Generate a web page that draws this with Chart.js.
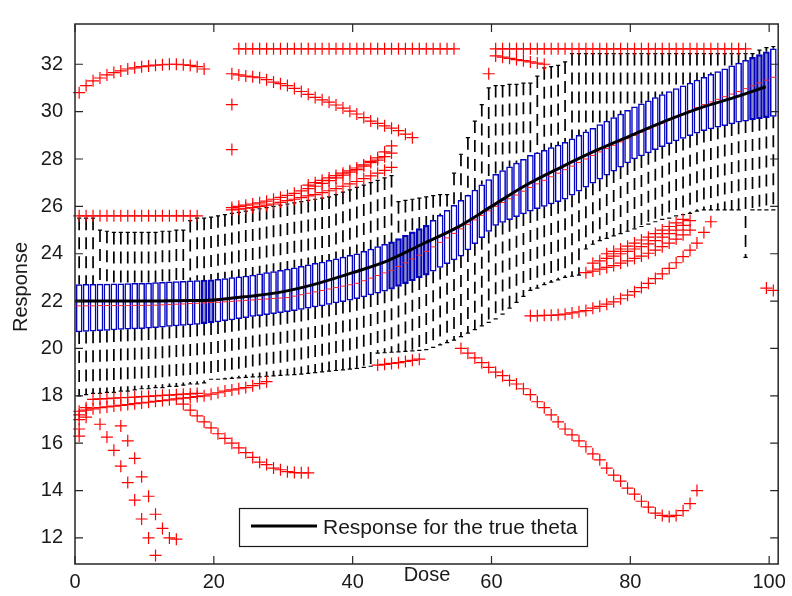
<!DOCTYPE html>
<html>
<head>
<meta charset="utf-8">
<style>
  html, body { margin: 0; padding: 0; background: #fff; }
</style>
</head>
<body>
<canvas id="doseChart" width="792" height="596"></canvas>
<script src="https://cdn.jsdelivr.net/npm/chart.js@4.4.1/dist/chart.umd.min.js"></script>
<script>
// one box per dose 0..100; boxes sit slightly right of the integer dose
const OFFSET = 0.6
const dose = Array.from({ length: 101 }, (_, i) => i)

// upper quartile
const q3 = [
  22.70, 22.71, 22.71, 22.72, 22.72, 22.73, 22.73, 22.74, 22.75, 22.75,
  22.76, 22.78, 22.79, 22.81, 22.82, 22.84, 22.86, 22.87, 22.89, 22.90,
  22.92, 22.95, 22.99, 23.02, 23.06, 23.10, 23.15, 23.20, 23.25, 23.30,
  23.35, 23.41, 23.47, 23.53, 23.59, 23.65, 23.72, 23.79, 23.86, 23.93,
  24.00, 24.10, 24.20, 24.30, 24.40, 24.50, 24.64, 24.78, 24.92, 25.06,
  25.20, 25.41, 25.62, 25.83, 26.04, 26.25, 26.47, 26.69, 26.91, 27.13,
  27.35, 27.51, 27.67, 27.83, 27.99, 28.15, 28.26, 28.37, 28.48, 28.59,
  28.70, 28.85, 29.00, 29.15, 29.30, 29.45, 29.60, 29.75, 29.90, 30.05,
  30.20, 30.33, 30.46, 30.59, 30.72, 30.85, 30.97, 31.09, 31.21, 31.33,
  31.45, 31.57, 31.69, 31.81, 31.93, 32.05, 32.17, 32.29, 32.41, 32.53,
  32.65
]

// lower quartile
const q1 = [
  20.70, 20.72, 20.73, 20.75, 20.76, 20.78, 20.80, 20.81, 20.83, 20.84,
  20.86, 20.88, 20.90, 20.93, 20.95, 20.97, 20.99, 21.02, 21.05, 21.08,
  21.12, 21.17, 21.21, 21.26, 21.30, 21.35, 21.39, 21.43, 21.47, 21.51,
  21.55, 21.60, 21.65, 21.70, 21.75, 21.80, 21.86, 21.92, 21.98, 22.04,
  22.10, 22.18, 22.26, 22.34, 22.42, 22.50, 22.62, 22.74, 22.86, 22.98,
  23.10, 23.26, 23.42, 23.58, 23.74, 23.90, 24.16, 24.42, 24.68, 24.94,
  25.20, 25.32, 25.44, 25.56, 25.68, 25.80, 25.90, 26.00, 26.10, 26.20,
  26.30, 26.47, 26.64, 26.81, 26.98, 27.15, 27.32, 27.49, 27.66, 27.83,
  28.00, 28.13, 28.26, 28.39, 28.52, 28.65, 28.76, 28.87, 28.98, 29.09,
  29.20, 29.27, 29.34, 29.41, 29.48, 29.55, 29.60, 29.65, 29.70, 29.75,
  29.80
]

// medians
const median = [
  21.80, 21.80, 21.80, 21.81, 21.81, 21.81, 21.81, 21.81, 21.82, 21.82,
  21.82, 21.83, 21.84, 21.86, 21.87, 21.88, 21.90, 21.91, 21.92, 21.94,
  21.95, 21.97, 21.99, 22.01, 22.03, 22.05, 22.07, 22.09, 22.11, 22.13,
  22.15, 22.21, 22.27, 22.33, 22.39, 22.45, 22.51, 22.57, 22.63, 22.69,
  22.75, 22.86, 22.97, 23.08, 23.19, 23.30, 23.46, 23.62, 23.78, 23.94,
  24.10, 24.29, 24.48, 24.67, 24.86, 25.05, 25.24, 25.43, 25.62, 25.81,
  26.00, 26.16, 26.32, 26.48, 26.64, 26.80, 26.95, 27.10, 27.25, 27.40,
  27.55, 27.70, 27.85, 28.00, 28.15, 28.30, 28.44, 28.58, 28.72, 28.86,
  29.00, 29.13, 29.26, 29.39, 29.52, 29.65, 29.78, 29.91, 30.04, 30.17,
  30.30, 30.41, 30.52, 30.63, 30.74, 30.85, 30.97, 31.09, 31.21, 31.33,
  31.45
]

// upper whisker ends
const whiskerHigh = [
  25.5, 25.5, 25.5, 25.0, 24.95, 24.9, 24.9, 24.9, 24.9, 24.9,
  24.9, 24.9, 24.95, 24.95, 25.0, 25.0, 25.4, 25.5, 25.5, 25.55,
  25.6, 25.65, 25.7, 25.75, 25.8, 25.85, 25.9, 25.95, 26.0, 26.05,
  26.1, 26.15, 26.2, 26.25, 26.3, 26.35, 26.4, 26.5, 26.6, 26.7,
  26.8, 26.9, 27.0, 27.1, 27.2, 27.3, 26.2, 26.25, 26.3, 26.35,
  26.4, 26.45, 26.5, 26.5, 27.4, 28.2, 28.9, 29.6, 30.3, 31.0,
  31.1, 31.1, 31.15, 31.15, 31.2, 31.2, 31.5, 31.85, 31.9, 31.95,
  32.1, 32.45, 32.45, 32.45, 32.45, 32.45, 32.45, 32.45, 32.45, 32.45,
  32.45, 32.45, 32.45, 32.45, 32.45, 32.45, 32.45, 32.45, 32.45, 32.45,
  32.45, 32.45, 32.45, 32.45, 32.45, 32.45, 32.45, 32.45, 32.6, 32.7,
  32.75
]

// lower whisker ends
const whiskerLow = [
  18.0, 18.05, 18.1, 18.1, 18.15, 18.15, 18.2, 18.2, 18.25, 18.3,
  18.3, 18.35, 18.35, 18.4, 18.4, 18.45, 18.5, 18.5, 18.55, 18.7,
  18.7, 18.72, 18.74, 18.76, 18.78, 18.8, 18.8, 18.82, 18.84, 18.86,
  18.88, 18.9, 18.92, 18.95, 18.98, 19.01, 19.04, 19.07, 19.1, 19.13,
  19.16, 19.2, 19.25, 19.8, 19.82, 19.84, 19.86, 19.88, 19.9, 19.92,
  19.95, 20.05, 20.15, 20.25, 20.35, 20.5, 20.65, 20.8, 20.95, 21.1,
  21.25, 21.45, 21.7, 21.95, 22.2, 22.45, 22.55, 22.7, 22.8, 22.9,
  23.0, 23.05, 23.1, 24.2, 24.4, 24.55, 24.65, 24.75, 24.85, 24.95,
  25.05, 25.15, 25.25, 25.35, 25.45, 25.5, 25.6, 25.65, 25.7, 25.8,
  25.85, 25.85, 25.85, 25.85, 25.85, 25.85, 23.85, 25.85, 25.85, 25.85,
  25.85
]

// response for the true theta
const truthDose = [0, 5, 10, 15, 20, 25, 30, 35, 40, 45, 50, 55, 60, 65, 70, 75, 80, 85, 90, 95, 99.5]
const truthResp = [22.0, 22.0, 22.0, 22.02, 22.05, 22.2, 22.4, 22.75, 23.2, 23.7, 24.4, 25.1, 26.0, 26.9, 27.65, 28.35, 28.98, 29.6, 30.15, 30.6, 31.05]

// outliers, one run of consecutive doses per array (first dose in the comment)
const outArcTop = [30.8, 31.1, 31.3, 31.42, 31.55, 31.65, 31.72, 31.8, 31.85, 31.9, 31.93, 31.96, 31.98, 32.0, 32.0, 31.98, 31.95, 31.9, 31.8] // from 0
const outRow256 = [25.6, 25.6, 25.6, 25.6, 25.6, 25.6, 25.6, 25.6, 25.6, 25.6, 25.6, 25.6, 25.6, 25.6, 25.6, 25.6, 25.6, 25.6] // from 0
const outRowTopA = [32.65, 32.65, 32.65, 32.65, 32.65, 32.65, 32.65, 32.65, 32.65, 32.65, 32.65, 32.65, 32.65, 32.65, 32.65, 32.65,
  32.65, 32.65, 32.65, 32.65, 32.65, 32.65, 32.65, 32.65, 32.65, 32.65, 32.65, 32.65, 32.65, 32.65, 32.65, 32.65] // from 23
const outRowTopB = [32.65, 32.65, 32.65, 32.65, 32.65, 32.65, 32.65, 32.65, 32.65, 32.65, 32.65, 32.65, 32.65, 32.65, 32.65, 32.65,
  32.65, 32.65, 32.65, 32.65, 32.65, 32.65, 32.65, 32.65, 32.65, 32.65, 32.65, 32.65, 32.65, 32.65, 32.65, 32.65,
  32.65, 32.65, 32.65, 32.65, 32.65] // from 60
const outArcMid = [31.6, 31.55, 31.5, 31.47, 31.43, 31.35, 31.25, 31.18, 31.1, 30.98, 30.85, 30.73, 30.6, 30.5, 30.4, 30.28,
  30.15, 30.02, 29.9, 29.75, 29.6, 29.5, 29.4, 29.3, 29.2, 29.05, 28.9] // from 22
const outBandF = [31.6, 32.35, 32.3, 32.25, 32.2, 32.15, 32.1, 32.05, 32.0] // from 59
const outG1 = [25.85, 25.88, 25.92, 25.95, 26.0, 26.05, 26.1, 26.17, 26.24, 26.3, 26.37, 26.44, 26.5, 26.58, 26.66, 26.75,
  26.85, 26.95, 27.05, 27.17, 27.29, 27.4, 27.52, 27.65] // from 22
const outG2 = [25.95, 26.0, 26.05, 26.1, 26.15, 26.22, 26.3, 26.38, 26.46, 26.55, 26.65, 26.75, 26.85, 26.97, 27.09, 27.2,
  27.32, 27.44, 27.55, 27.7, 27.85, 27.95, 28.1, 28.25] // from 22
const outG3 = [26.9, 27.0, 27.1, 27.2, 27.3, 27.4, 27.5, 27.62, 27.75, 27.9, 28.05, 28.3, 28.55] // from 33
const outH1 = [17.35, 17.4, 17.45, 17.5, 17.53, 17.57, 17.6, 17.63, 17.67, 17.7, 17.73, 17.77, 17.8, 17.83, 17.87, 17.9,
  17.93, 17.97, 18.0, 18.07, 18.13, 18.2, 18.25, 18.3, 18.35, 18.43, 18.52, 18.6] // from 0
const outH2 = [17.85, 17.87, 17.88, 17.9, 17.92, 17.93, 17.95, 17.97, 17.98, 18.0, 18.02, 18.03, 18.05, 18.07, 18.08, 18.1] // from 2
const outI = [17.65, 17.4, 17.15, 16.9, 16.65, 16.4, 16.2, 16.0, 15.8, 15.6, 15.4, 15.2, 15.1, 14.95, 14.88, 14.8, 14.76, 14.75, 14.75] // from 15
const outJ1 = [16.8, 16.26, 15.7, 15.03, 14.34, 13.6, 12.8, 12.0, 11.26] // from 3
const outJ2 = [16.73, 16.1, 15.36, 14.58, 13.76, 13.0, 12.4, 12.0, 11.95] // from 6
const outK = [19.3, 19.33, 19.37, 19.4, 19.45, 19.5, 19.55] // from 43
const outL = [20.0, 19.8, 19.6, 19.4, 19.2, 19.0, 18.85, 18.65, 18.5, 18.3, 18.05, 17.75, 17.5, 17.2, 16.9, 16.6, 16.35, 16.1,
  15.85, 15.55, 15.3, 14.95, 14.65, 14.4, 14.1, 13.85, 13.55, 13.3, 13.05, 12.95, 12.9, 12.95, 13.15, 13.45, 14.0] // from 55
const outM = [21.38, 21.38, 21.4, 21.4, 21.42, 21.45, 21.5, 21.55, 21.6, 21.7, 21.78, 21.87, 21.97, 22.1, 22.25, 22.4, 22.57,
  22.75, 22.95, 23.15, 23.38, 23.62, 23.88, 24.15, 24.45, 24.9, 25.35] // from 65
const outN1 = [23.2, 23.27, 23.35, 23.42, 23.5, 23.6, 23.7, 23.8, 23.9, 24.02, 24.15, 24.3, 24.45, 24.62, 24.8, 25.0] // from 73
const outN2 = [23.6, 23.7, 23.8, 23.9, 24.0, 24.1, 24.2, 24.3, 24.42, 24.55, 24.7, 24.85, 25.0, 25.2, 25.4] // from 74
const outN3 = [24.0, 24.1, 24.2, 24.32, 24.45, 24.58, 24.7, 24.85, 25.0, 25.15, 25.3, 25.45] // from 76
const singleDose = [22, 22, 0, 0, 0, 0, 1, 1, 99, 100]
const singleResp = [30.3, 28.4, 16.3, 16.6, 17.0, 17.2, 17.1, 17.5, 22.55, 22.45]

// axis ticks
const xTicks = [0, 20, 40, 60, 80, 100]
const yTicks = [12, 14, 16, 18, 20, 22, 24, 26, 28, 30, 32]

const FONT = "'Liberation Sans', Arial, sans-serif"
Chart.defaults.font.family = FONT

// helpers to turn the arrays into points for the library
const pos = (d) => d + OFFSET
const band = (start, values) => values.map((v, k) => ({ x: pos(start + k), y: v }))
const segments = (pairs) => pairs.flatMap(([a, b]) => [a, b, { x: a.x, y: null }])

const boxData = dose.map((d, i) => ({ x: pos(d), y: [q1[i], q3[i]] }))
const upperWhiskers = segments(dose.map((d, i) => [{ x: pos(d), y: whiskerHigh[i] }, { x: pos(d), y: q3[i] }]))
const lowerWhiskers = segments(dose.map((d, i) => [{ x: pos(d), y: q1[i] }, { x: pos(d), y: whiskerLow[i] }]))
const caps = segments(dose.flatMap((d, i) => [
  [{ x: pos(d) - 0.3, y: whiskerHigh[i] }, { x: pos(d) + 0.3, y: whiskerHigh[i] }],
  [{ x: pos(d) - 0.3, y: whiskerLow[i] }, { x: pos(d) + 0.3, y: whiskerLow[i] }],
]))
const medianLines = segments(dose.map((d, i) => [{ x: pos(d) - 0.4, y: median[i] }, { x: pos(d) + 0.4, y: median[i] }]))
const outliers = [
  ...band(0, outArcTop), ...band(0, outRow256), ...band(23, outRowTopA), ...band(60, outRowTopB),
  ...band(22, outArcMid), ...band(59, outBandF), ...band(22, outG1), ...band(22, outG2), ...band(33, outG3),
  ...band(0, outH1), ...band(2, outH2), ...band(15, outI), ...band(3, outJ1), ...band(6, outJ2),
  ...band(43, outK), ...band(55, outL), ...band(65, outM), ...band(73, outN1), ...band(74, outN2), ...band(76, outN3),
  ...singleDose.map((d, i) => ({ x: pos(d), y: singleResp[i] })),
]
const truth = truthDose.map((d, i) => ({ x: d, y: truthResp[i] }))

// a few boxes look filled in the picture
const darkBoxes = [18, 19, 45, 46, 47, 48, 49, 50, 97, 98, 99]

// frame, inward ticks, axis titles and the legend box
const matlabFrame = {
  id: "matlabFrame",
  afterDraw(chart) {
    const { ctx, chartArea: a, scales } = chart
    const xs = scales.x
    const ys = scales.y
    ctx.save()
    ctx.strokeStyle = "#262626"
    ctx.lineWidth = 1.5
    ctx.strokeRect(a.left, a.top, a.right - a.left, a.bottom - a.top)
    ctx.lineWidth = 1.2
    ctx.beginPath()
    xTicks.forEach((t) => {
      const px = xs.getPixelForValue(t)
      ctx.moveTo(px, a.bottom)
      ctx.lineTo(px, a.bottom - 8)
      ctx.moveTo(px, a.top)
      ctx.lineTo(px, a.top + 8)
    })
    yTicks.forEach((t) => {
      const py = ys.getPixelForValue(t)
      ctx.moveTo(a.left, py)
      ctx.lineTo(a.left + 8, py)
      ctx.moveTo(a.right, py)
      ctx.lineTo(a.right - 8, py)
    })
    ctx.stroke()

    // axis titles
    ctx.fillStyle = "#1a1a1a"
    ctx.font = "20px " + FONT
    ctx.textAlign = "center"
    ctx.textBaseline = "middle"
    ctx.fillText("Dose", 427, 575)
    ctx.save()
    ctx.translate(21, 287)
    ctx.rotate(-Math.PI / 2)
    ctx.fillText("Response", 0, 0)
    ctx.restore()

    // legend
    const lx = 239.5, ly = 508.5, lw = 348, lh = 38
    ctx.fillStyle = "#fff"
    ctx.fillRect(lx, ly, lw, lh)
    ctx.lineWidth = 1.2
    ctx.strokeStyle = "#1a1a1a"
    ctx.strokeRect(lx, ly, lw, lh)
    ctx.lineWidth = 3
    ctx.strokeStyle = "#000"
    ctx.beginPath()
    ctx.moveTo(251, 526)
    ctx.lineTo(317, 526)
    ctx.stroke()
    ctx.fillStyle = "#1a1a1a"
    ctx.textAlign = "left"
    ctx.textBaseline = "alphabetic"
    ctx.font = "21px " + FONT
    ctx.fillText("Response for the true theta", 323, 534)
    ctx.restore()
  },
}

const ctx = document.getElementById("doseChart")
new Chart(ctx, {
  type: "bar",
  data: {
    datasets: [
      {
        type: "line",
        data: truth,
        borderColor: "#000",
        borderWidth: 3,
        pointRadius: 0,
        cubicInterpolationMode: "monotone",
        order: 0,
      },
      {
        type: "scatter",
        data: outliers,
        pointStyle: "cross",
        pointRadius: 6,
        borderColor: "#ff0000",
        backgroundColor: "#ff0000",
        borderWidth: 1.2,
        clip: false,
        order: 1,
      },
      {
        type: "line",
        data: medianLines,
        borderColor: "#ff2020",
        borderWidth: 1,
        pointRadius: 0,
        spanGaps: false,
        order: 2,
      },
      {
        type: "bar",
        data: boxData,
        borderColor: "#0505c0",
        backgroundColor: dose.map((d) => (darkBoxes.includes(d) ? "rgba(0,0,140,0.45)" : "#ffffff")),
        borderWidth: 1.5,
        borderSkipped: false,
        barThickness: 6,
        grouped: false,
        order: 3,
      },
      {
        type: "line",
        data: caps,
        borderColor: "#000",
        borderWidth: 1.2,
        pointRadius: 0,
        spanGaps: false,
        order: 4,
      },
      {
        type: "line",
        data: upperWhiskers,
        borderColor: "#000",
        borderWidth: 1.7,
        borderDash: [12, 7],
        pointRadius: 0,
        spanGaps: false,
        order: 5,
      },
      {
        type: "line",
        data: lowerWhiskers,
        borderColor: "#000",
        borderWidth: 1.7,
        borderDash: [12, 7],
        pointRadius: 0,
        spanGaps: false,
        order: 5,
      },
    ],
  },
  options: {
    responsive: false,
    animation: false,
    events: [],
    layout: { padding: { top: 8, right: 12, left: 0, bottom: 0 } },
    plugins: {
      legend: { display: false },
      tooltip: { enabled: false },
    },
    scales: {
      x: {
        type: "linear",
        min: 0,
        max: 101.3,
        offset: false,
        grid: { display: false, drawTicks: false, offset: false },
        border: { display: false },
        afterBuildTicks: (scale) => {
          scale.ticks = xTicks.map((v) => ({ value: v }))
        },
        afterFit: (scale) => {
          scale.height = 32
        },
        ticks: {
          autoSkip: false,
          maxRotation: 0,
          padding: 6,
          color: "#1a1a1a",
          font: { size: 20 },
        },
      },
      y: {
        type: "linear",
        min: 10.9,
        max: 33.7,
        grid: { display: false, drawTicks: false },
        border: { display: false },
        afterBuildTicks: (scale) => {
          scale.ticks = yTicks.map((v) => ({ value: v }))
        },
        afterFit: (scale) => {
          scale.width = 75
        },
        ticks: {
          padding: 12,
          color: "#1a1a1a",
          font: { size: 20 },
        },
      },
    },
  },
  plugins: [matlabFrame],
})
</script>
</body>
</html>
